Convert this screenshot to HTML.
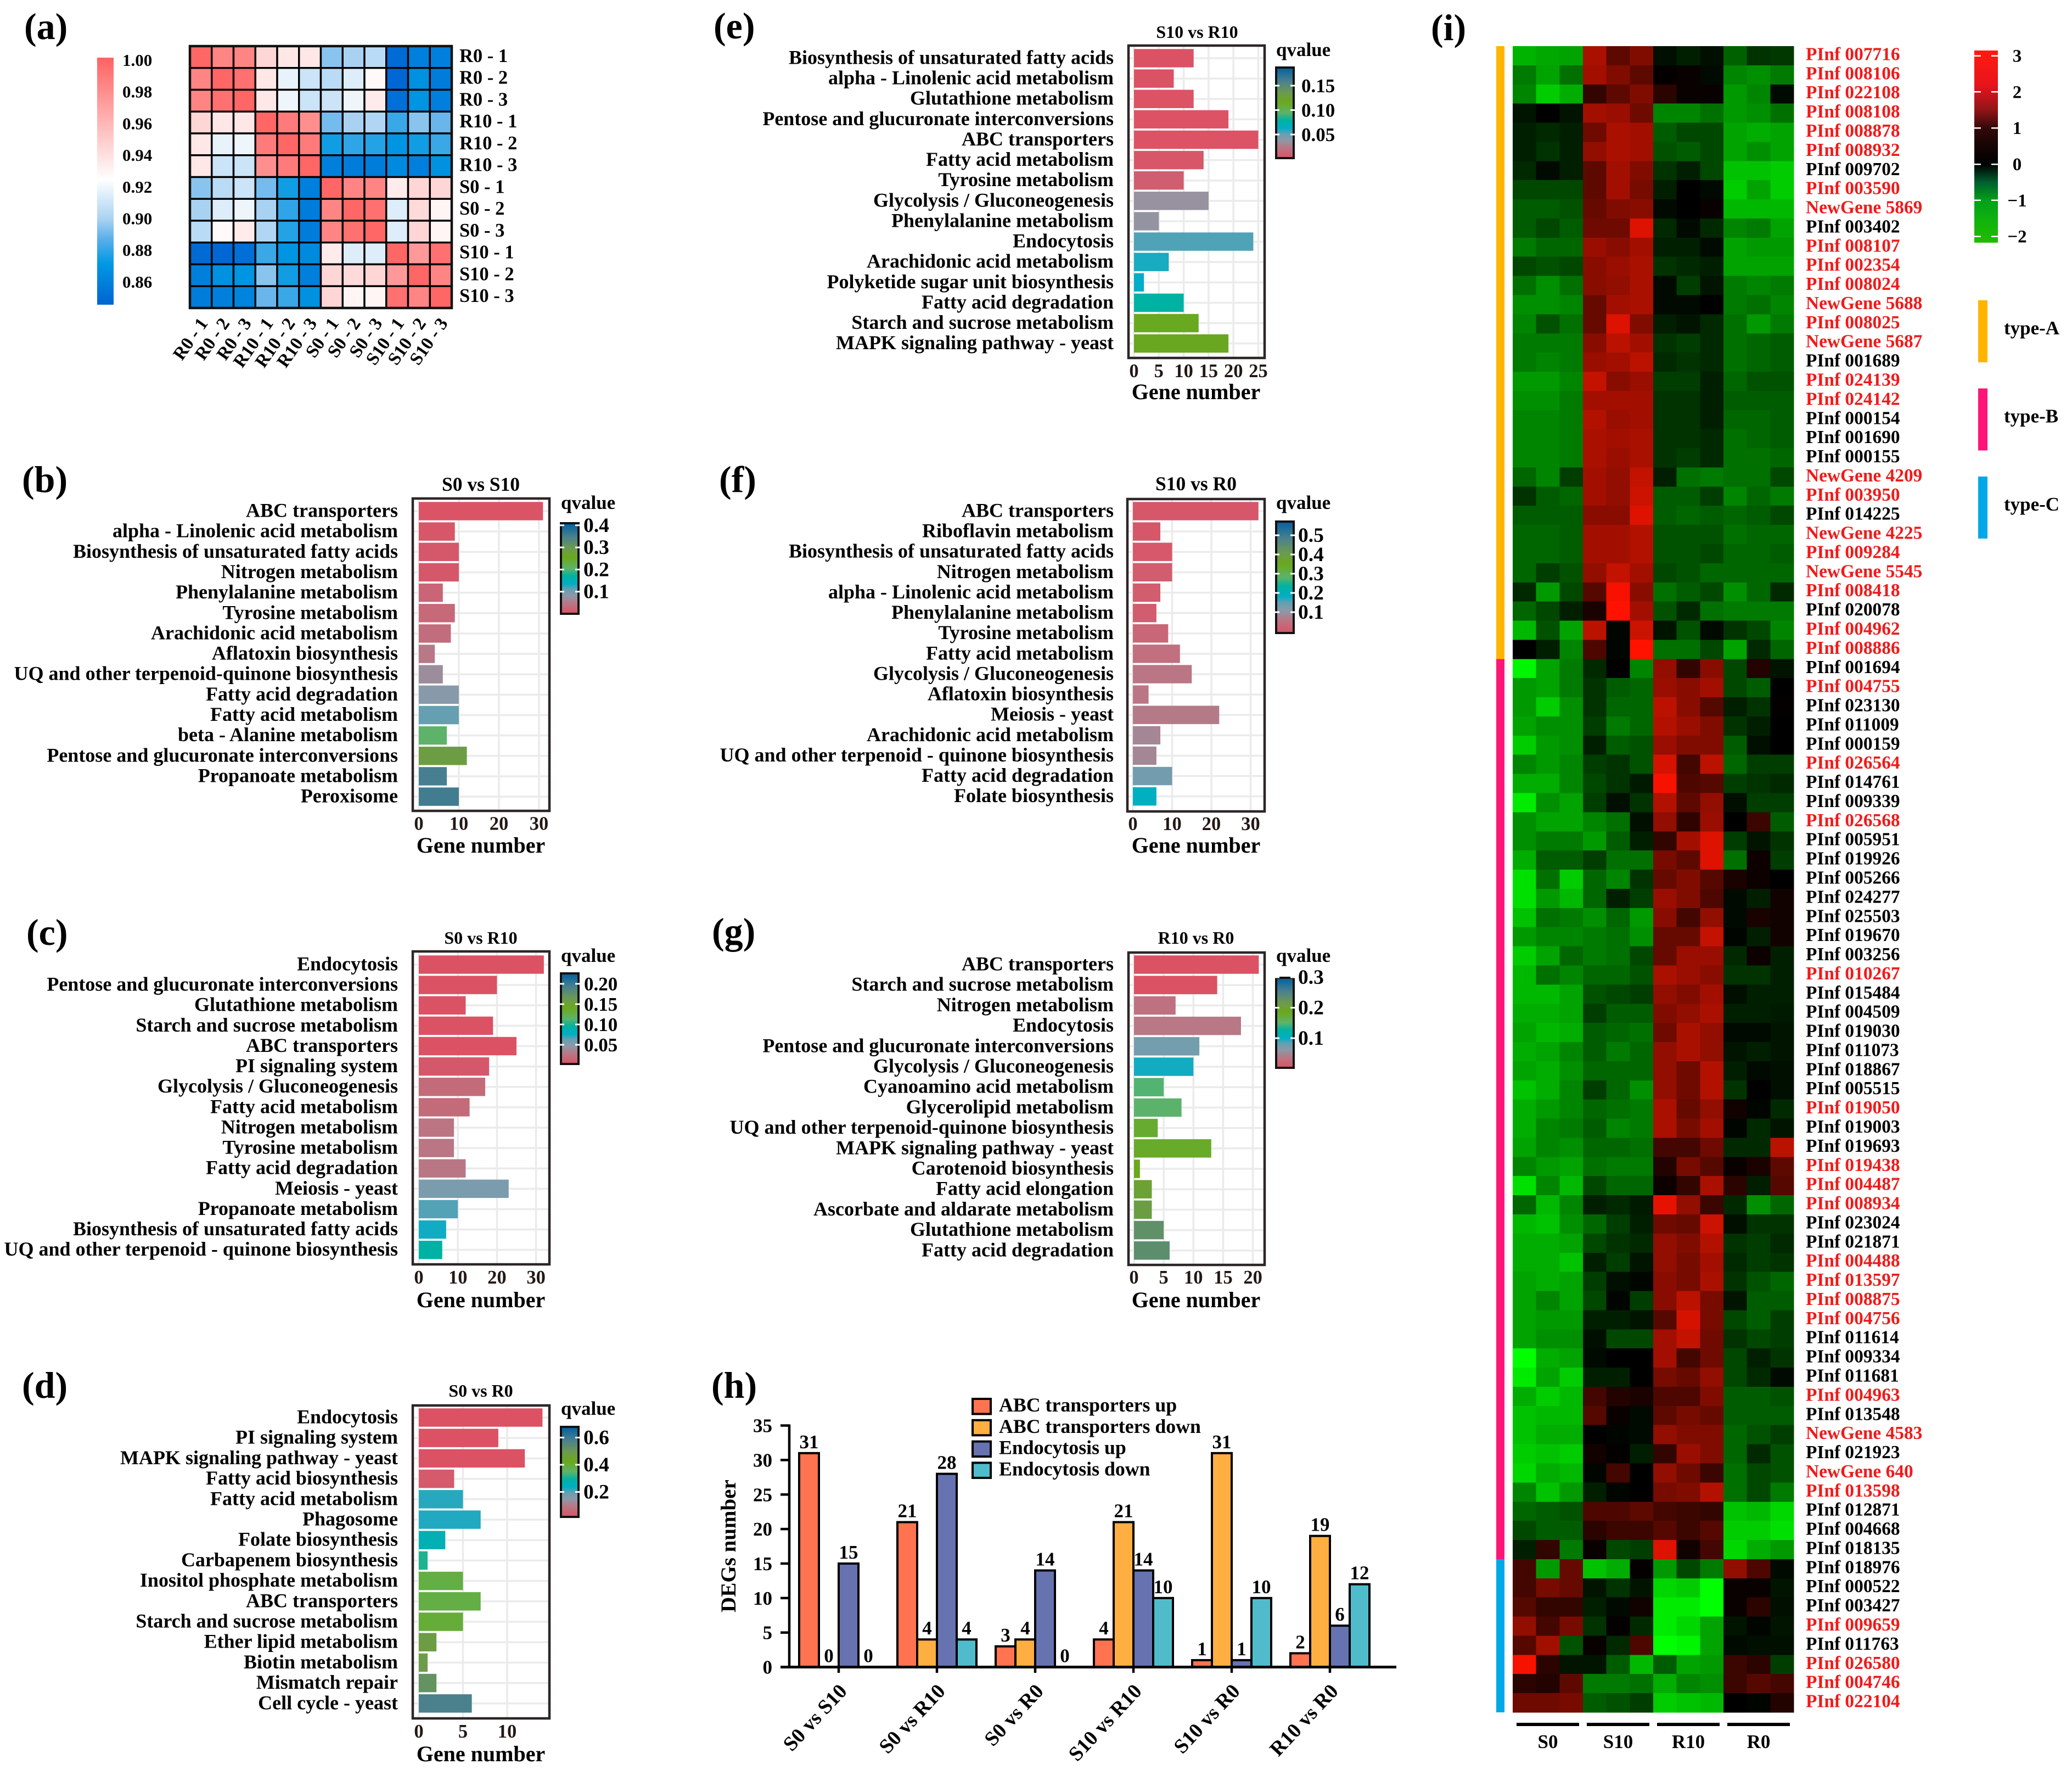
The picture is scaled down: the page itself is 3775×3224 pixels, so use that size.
<!DOCTYPE html>
<html lang="en">
<head>
<meta charset="utf-8">
<title>Multi-panel transcriptome figure</title>
<style>
html,body{margin:0;padding:0;background:#fff;}
svg{display:block;}
text{font-family:"Liberation Serif",serif;font-weight:bold;fill:#000;}
</style>
</head>
<body>
<svg id="fig" xmlns="http://www.w3.org/2000/svg" width="3775" height="3224" viewBox="0 0 3775 3224">
<defs id="defs"></defs>
<rect x="0" y="0" width="3775" height="3224" fill="#fff"></rect>
<text x="44" y="71" font-size="68">(a)</text>
<text x="40" y="896" font-size="68">(b)</text>
<text x="48" y="1721" font-size="68">(c)</text>
<text x="40" y="2546" font-size="68">(d)</text>
<text x="1300" y="70" font-size="68">(e)</text>
<text x="1310" y="896" font-size="68">(f)</text>
<text x="1297" y="1719" font-size="68">(g)</text>
<text x="1296" y="2546" font-size="68">(h)</text>
<text x="2607" y="73" font-size="68">(i)</text>
</svg>
<script>
/* ---------- panel (a) data ---------- */
const corrSamples = ["R0 - 1","R0 - 2","R0 - 3","R10 - 1","R10 - 2","R10 - 3","S0 - 1","S0 - 2","S0 - 3","S10 - 1","S10 - 2","S10 - 3"];
const corrLegendTicks = [1.00,0.98,0.96,0.94,0.92,0.90,0.88,0.86];
const corrMatrix = [
[1.00,.985,.985,.945,.937,.937,.895,.90,.905,.85,.86,.86],
[.985,1,.995,.937,.918,.91,.905,.915,.928,.848,.868,.858],
[.985,.995,1,.937,.92,.91,.91,.92,.935,.852,.87,.86],
[.945,.937,.937,1,.99,.98,.892,.90,.902,.882,.895,.89],
[.937,.918,.92,.99,1,.99,.875,.88,.878,.87,.875,.882],
[.937,.91,.91,.98,.99,1,.86,.858,.858,.865,.86,.868],
[.895,.905,.91,.892,.875,.86,1,.985,.985,.935,.945,.945],
[.90,.915,.92,.90,.88,.858,.985,1,.995,.915,.943,.93],
[.905,.928,.935,.902,.878,.858,.985,.995,1,.915,.945,.93],
[.85,.848,.852,.882,.87,.865,.935,.915,.915,1,.975,.995],
[.86,.868,.87,.895,.875,.86,.945,.943,.945,.975,1,.985],
[.858,.86,.862,.89,.882,.868,.945,.93,.93,.995,.985,1]
];
const corrColorValues = [0.846,0.872,0.888,0.90,0.925,1.002];
const corrColorHex = ["#0063d3","#0099e3","#5db0ea","#a9d2f2","#ffffff","#ff6262"];

/* ---------- enrichment panels data ---------- */
const pathwaysB = ["ABC transporters","alpha - Linolenic acid metabolism","Biosynthesis of unsaturated fatty acids","Nitrogen metabolism","Phenylalanine metabolism","Tyrosine metabolism","Arachidonic acid metabolism","Aflatoxin biosynthesis","UQ and other terpenoid-quinone biosynthesis","Fatty acid degradation","Fatty acid metabolism","beta - Alanine metabolism","Pentose and glucuronate interconversions","Propanoate metabolism","Peroxisome"];
const genesB = [31,9,10,10,6,9,8,4,6,10,10,7,12,7,10];
const qvalB = [.002,.005,.008,.008,.025,.03,.035,.05,.07,.085,.11,.205,.285,.35,.355];
const xTicksB = [0,10,20,30];
const qTicksB = ["0.1","0.2","0.3","0.4"];

const pathwaysC = ["Endocytosis","Pentose and glucuronate interconversions","Glutathione metabolism","Starch and sucrose metabolism","ABC transporters","PI signaling system","Glycolysis / Gluconeogenesis","Fatty acid metabolism","Nitrogen metabolism","Tyrosine metabolism","Fatty acid degradation","Meiosis - yeast","Propanoate metabolism","Biosynthesis of unsaturated fatty acids","UQ and other terpenoid - quinone biosynthesis"];
const genesC = [32,20,12,19,25,18,17,13,9,9,12,23,10,7,6];
const qvalC = [.001,.001,.001,.002,.003,.007,.02,.02,.027,.028,.029,.054,.065,.074,.094];
const xTicksC = [0,10,20,30];
const qTicksC = ["0.05","0.10","0.15","0.20"];

const pathwaysD = ["Endocytosis","PI signaling system","MAPK signaling pathway - yeast","Fatty acid biosynthesis","Fatty acid metabolism","Phagosome","Folate biosynthesis","Carbapenem biosynthesis","Inositol phosphate metabolism","ABC transporters","Starch and sucrose metabolism","Ether lipid metabolism","Biotin metabolism","Mismatch repair","Cell cycle - yeast"];
const genesD = [14,9,12,4,5,7,3,1,5,7,5,2,1,2,6];
const qvalD = [.001,.002,.006,.033,.219,.222,.265,.312,.385,.385,.398,.477,.484,.517,.577];
const xTicksD = [0,5,10];
const qTicksD = ["0.2","0.4","0.6"];

const pathwaysE = ["Biosynthesis of unsaturated fatty acids","alpha - Linolenic acid metabolism","Glutathione metabolism","Pentose and glucuronate interconversions","ABC transporters","Fatty acid metabolism","Tyrosine metabolism","Glycolysis / Gluconeogenesis","Phenylalanine metabolism","Endocytosis","Arachidonic acid metabolism","Polyketide sugar unit biosynthesis","Fatty acid degradation","Starch and sucrose metabolism","MAPK signaling pathway - yeast"];
const genesE = [12,8,12,19,25,14,10,15,5,24,7,2,10,13,19];
const qvalE = [.001,.001,.002,.002,.002,.004,.009,.035,.036,.054,.06,.063,.078,.115,.118];
const xTicksE = [0,5,10,15,20,25];
const qTicksE = ["0.05","0.10","0.15"];

const pathwaysF = ["ABC transporters","Riboflavin metabolism","Biosynthesis of unsaturated fatty acids","Nitrogen metabolism","alpha - Linolenic acid metabolism","Phenylalanine metabolism","Tyrosine metabolism","Fatty acid metabolism","Glycolysis / Gluconeogenesis","Aflatoxin biosynthesis","Meiosis - yeast","Arachidonic acid metabolism","UQ and other terpenoid - quinone biosynthesis","Fatty acid degradation","Folate biosynthesis"];
const genesF = [32,7,10,10,7,6,9,12,15,4,22,7,6,10,6];
const qvalF = [.001,.001,.002,.012,.012,.012,.029,.046,.058,.058,.064,.081,.081,.133,.191];
const xTicksF = [0,10,20,30];
const qTicksF = ["0.1","0.2","0.3","0.4","0.5"];

const pathwaysG = ["ABC transporters","Starch and sucrose metabolism","Nitrogen metabolism","Endocytosis","Pentose and glucuronate interconversions","Glycolysis / Gluconeogenesis","Cyanoamino acid metabolism","Glycerolipid metabolism","UQ and other terpenoid-quinone biosynthesis","MAPK signaling pathway - yeast","Carotenoid biosynthesis","Fatty acid elongation","Ascorbate and aldarate metabolism","Glutathione metabolism","Fatty acid degradation"];
const genesG = [21,14,7,18,11,10,5,8,4,13,1,3,3,5,6];
const qvalG = [.001,.003,.032,.038,.074,.097,.148,.15,.177,.18,.186,.2,.209,.23,.233];
const xTicksG = [0,5,10,15,20];
const qTicksG = ["0.1","0.2","0.3"];

const qColorPositions = [0,.12,.2,.27,.33,.42,.5,.62,.72,.85,1];
const qColorHex = ["#db5265","#b87886","#8c99a9","#64a0b2","#00aec6","#00b2a0","#5db36a","#6aa81c","#6c9a50","#4a808f","#00609f"];

/* ---------- panel (h) data ---------- */
const degGroups = ["S0 vs S10","S0 vs R10","S0 vs R0","S10 vs R10","S10 vs R0","R10 vs R0"];
const abcUp = [31,21,3,4,1,2];
const abcDown = [0,4,4,21,31,19];
const endoUp = [15,28,14,14,1,6];
const endoDown = [0,4,0,10,10,12];
const degSeriesNames = ["ABC transporters up","ABC transporters down","Endocytosis up","Endocytosis down"];
const degSeriesColors = ["#ff7350","#ffae42","#6673b0","#50bccb"];
const degYTicks = [0,5,10,15,20,25,30,35];

/* ---------- panel (i) data ---------- */
const heatGenes = ["PInf 007716","PInf 008106","PInf 022108","PInf 008108","PInf 008878","PInf 008932","PInf 009702","PInf 003590","NewGene 5869","PInf 003402","PInf 008107","PInf 002354","PInf 008024","NewGene 5688","PInf 008025","NewGene 5687","PInf 001689","PInf 024139","PInf 024142","PInf 000154","PInf 001690","PInf 000155","NewGene 4209","PInf 003950","PInf 014225","NewGene 4225","PInf 009284","NewGene 5545","PInf 008418","PInf 020078","PInf 004962","PInf 008886","PInf 001694","PInf 004755","PInf 023130","PInf 011009","PInf 000159","PInf 026564","PInf 014761","PInf 009339","PInf 026568","PInf 005951","PInf 019926","PInf 005266","PInf 024277","PInf 025503","PInf 019670","PInf 003256","PInf 010267","PInf 015484","PInf 004509","PInf 019030","PInf 011073","PInf 018867","PInf 005515","PInf 019050","PInf 019003","PInf 019693","PInf 019438","PInf 004487","PInf 008934","PInf 023024","PInf 021871","PInf 004488","PInf 013597","PInf 008875","PInf 004756","PInf 011614","PInf 009334","PInf 011681","PInf 004963","PInf 013548","NewGene 4583","PInf 021923","NewGene 640","PInf 013598","PInf 012871","PInf 004668","PInf 018135","PInf 018976","PInf 000522","PInf 003427","PInf 009659","PInf 011763","PInf 026580","PInf 004746","PInf 022104"];
const heatGeneHighlighted = [1,1,1,1,1,1,0,1,1,0,1,1,1,1,1,1,0,1,1,0,0,0,1,1,0,1,1,1,1,0,1,1,0,1,0,0,0,1,0,0,1,0,0,0,0,0,0,0,1,0,0,0,0,0,0,1,0,0,1,1,1,0,0,1,1,1,1,0,0,0,1,0,1,0,1,1,0,0,0,0,0,0,1,0,1,1,1];
const heatGroupNames = ["S0","S10","R10","R0"];
const heatTypeNames = ["type-A","type-B","type-C"];
const heatTypeCounts = [32,47,8];
const heatTypeColors = ["#ffb400","#ff1478","#00a8e8"];
const heatLegendTicks = [3,2,1,0,-1,-2];
const heatRows = [
[-1.75,-1.65,-1.6,2,1.1,1.5,-.15,-.3,-.15,-.95,-.5,-.55],
[-1.2,-1.6,-1.1,1.9,1.5,1.1,.05,.1,-.1,-1.3,-1.4,-1.2],
[-1.3,-2,-1.7,.6,1.1,1.5,.5,.1,.1,-1.5,-1.3,-.1],
[-.2,0,-.2,1.9,1.8,1.3,-1.3,-1.3,-1.1,-1.5,-1.4,-1.1],
[-.3,-.4,-.3,1.3,2,1.9,-.9,-.7,-.7,-1.6,-1.7,-1.6],
[-.3,-.5,-.3,1.7,2,1.9,-.8,-.9,-.7,-1.6,-1.4,-1.6],
[-.4,-.1,-.3,1.1,1.9,1.5,-.5,-.3,-.7,-1.9,-1.9,-2],
[-.7,-.7,-.7,1.1,1.9,1.4,-.3,0,-.1,-2,-1.6,-2],
[-.9,-.9,-.8,1.2,1.5,1.6,-.1,0,.1,-1.8,-1.8,-1.8],
[-.9,-.7,-.9,1.3,1.3,2.6,-.4,-.1,-.4,-1.3,-1.2,-1.6],
[-1.2,-1,-1,1.8,1.6,1.9,-.3,-.3,-.1,-1.6,-1.5,-1.5],
[-.7,-.8,-.7,1.6,1.8,2,-.5,-.4,-.3,-1.6,-1.6,-1.6],
[-1.1,-1.4,-1.1,1.6,1.7,2,-.1,-.6,-.2,-1.2,-1.3,-1.2],
[-1.4,-1.4,-1.3,1.2,1.9,2,-.1,-.1,0,-1.2,-1.1,-1.3],
[-1.3,-.8,-1.1,1.2,2.6,1.5,-.3,-.2,-.4,-1.1,-1.5,-1.2],
[-1.2,-1.2,-1.2,1.6,2.2,1.9,-.5,-.6,-.4,-1.1,-1,-.9],
[-1.2,-1.3,-1.2,1.8,1.9,2.2,-.4,-.5,-.4,-1.1,-1,-.9],
[-1.5,-1.5,-1.3,2.3,1.6,1.8,-.6,-.6,-.3,-1,-.8,-.8],
[-1.4,-1.4,-1.2,1.9,1.9,1.9,-.5,-.5,-.3,-.9,-.9,-.9],
[-1.3,-1.3,-1.2,2.1,1.8,1.9,-.5,-.5,-.3,-1,-1,-.9],
[-1.3,-1.3,-1.2,2,1.9,2,-.5,-.5,-.4,-1.1,-1,-.9],
[-1.3,-1.3,-1.2,2,1.8,2,-.5,-.6,-.4,-1.1,-1.1,-1],
[-1,-1.3,-.6,1.9,1.7,2.3,-.3,-1.1,-1.2,-1.1,-1.1,-.7],
[-.5,-.9,-1,1.9,1.7,2.4,-.9,-.9,-.6,-1.3,-1,-1.2],
[-.9,-.9,-.9,1.6,1.6,2.6,-.9,-1,-.9,-1,-.9,-.7],
[-1,-1,-.9,1.9,1.9,2.1,-.8,-.8,-.8,-1.1,-1,-1],
[-1,-1,-.9,1.9,1.9,2.1,-.8,-.8,-.7,-1,-1,-.9],
[-1,-.6,-.8,1.7,2.3,1.9,-.7,-.8,-1,-1,-1,-1],
[-.4,-1.5,-.7,1,2.9,1.6,-1.1,-.9,-.7,-1.4,-1,-.4],
[-1,-.7,-.3,.3,3,1.9,-.8,-.4,-1.1,-1.2,-1.2,-1.2],
[-1.8,-.8,-1.6,2.2,-.05,2.4,-.2,-.8,-.1,-.5,-.7,-1.3],
[0,-.3,-1.3,.9,-.05,3,-1.1,-1.1,-.7,-1.6,-.4,-1],
[-2.4,-1.6,-1.2,-.4,0,-1.3,1.7,.6,1.6,-.7,.4,-.2],
[-1.5,-1.6,-1.2,-.5,-.9,-1,1.8,1.6,1.9,-.7,-.9,0],
[-1.5,-2,-1.4,-.5,-1,-1,2.2,1.6,1,-.3,-.5,.05],
[-1.6,-1.4,-1.4,-.6,-1.2,-1,2.1,1.8,1.5,-.5,-.3,0],
[-2,-1.5,-1.4,-.3,-.9,-.8,1.8,1.5,1.5,-.9,-.15,0],
[-1.3,-1.5,-1.3,-.6,-.5,-.8,2.5,.8,2.2,-1,-.6,-.6],
[-1.7,-1.7,-1.3,-.7,-.5,-.25,2.9,.9,1,-.6,-.5,-.4],
[-2.3,-1.4,-1.6,-.6,-.15,-.5,2.1,1.1,1.7,-.15,-.6,-.6],
[-1.4,-1.6,-1.6,-1.3,-1.1,-.15,1.7,.55,1.8,0,.7,-.9],
[-1.4,-1.2,-1.2,-1.5,-.9,-.3,.6,1.9,2.6,-.6,-.2,-.5],
[-1.7,-.9,-.9,-.6,-1.1,-1.1,1.4,1.1,2.6,-1.1,.15,-.6],
[-2.2,-1.1,-2,-1,-1.3,-.5,1.2,1.5,1,.3,.15,0],
[-2.2,-1.5,-1.8,-1,-.3,-.6,1.8,1.5,.9,-.1,-.3,.2],
[-1.9,-1.1,-1.2,-1.4,-1,-1.5,1.6,.8,1.7,-.1,.3,.2],
[-1.5,-1.3,-1.3,-1.2,-1.1,-1.4,1.2,1.2,2.3,-.05,-.3,.2],
[-2,-1.6,-1,-1.2,-1.1,-.7,1.2,1.8,1.8,-.4,.15,-.3],
[-1.8,-1.1,-1.3,-1,-1,-.8,2,1.8,1.6,-.5,-.5,-.3],
[-1.8,-1.8,-1.6,-.8,-.7,-.6,1.7,1.5,1.9,-.15,-.3,-.3],
[-1.7,-1.7,-1.6,-.6,-.9,-.9,1.5,1.7,2,-.3,-.3,-.25],
[-1.6,-1.8,-1.7,-.9,-1,-1.1,1.3,2,1.7,-.1,-.1,-.2],
[-1.7,-1.6,-1.3,-.9,-1.2,-1,1.7,2,1.7,-.2,-.3,-.2],
[-1.6,-1.7,-1.4,-1,-1,-1,1.7,1.3,2.1,-.3,-.1,-.15],
[-1.9,-1.7,-1.3,-.6,-1,-1.4,1.7,1.3,2.1,-.5,0,-.15],
[-1.7,-1.5,-1.3,-1,-1.1,-1.2,2,1.2,1.7,.2,-.05,-.4],
[-1.7,-1.3,-1.2,-.9,-1.3,-1.2,2,1.4,1.9,-.05,-.4,-.2],
[-1.6,-1.3,-1.4,-1,-1,-1.1,.8,.8,1.3,-.4,-.4,2.2],
[-1.3,-1.5,-1.6,-1.1,-1.2,-1.2,.4,1.4,1,.1,.3,1.1],
[-2.2,-1.3,-1.8,-.7,-1,-1,.15,.6,2,.5,-.3,1],
[-1,-1.8,-1.3,-.3,-.4,-.25,2.7,1.7,.7,-.4,-1.4,-1],
[-1.8,-1.9,-1.4,-1,-.6,-.3,1.3,1.2,2.4,-.15,-.5,-.5],
[-1.7,-1.7,-1.6,-.7,-.5,-.4,1.7,1.5,2.1,-.5,-.6,-.4],
[-1.7,-1.7,-1.9,-.3,-.6,-.2,1.7,1.4,1.9,-.4,-.6,-.5],
[-1.6,-1.7,-1.6,-.6,-.15,-.05,1.6,1.4,2,-.5,-.8,-1],
[-1.6,-1.3,-1.6,-.7,-.05,-.6,1.6,2.2,1.4,-.2,-.9,-.9],
[-1.6,-1.5,-1.5,-.3,-.3,-.2,1,2.5,1.4,-.7,-.9,-.6],
[-1.6,-1.4,-1.4,-.15,-.7,-.7,1.9,2.3,1.3,-.5,-.7,-.6],
[-2.5,-1.7,-1.6,-.1,0,0,1.9,.8,1.3,-.7,-.3,-.5],
[-2.3,-1.6,-2,-.3,-.3,0,1.4,1.2,1.7,-.7,-.4,-.1],
[-1.7,-2,-1.8,.8,.4,.3,.9,.9,1.5,-.9,-.9,-.8],
[-1.9,-1.8,-1.8,1,.1,-.1,1.1,1.4,1.2,-.9,-.9,-.9],
[-1.9,-1.7,-1.7,0,-.05,-.1,1.7,1.5,1.5,-1,-.8,-.6],
[-2,-1.9,-2,.2,.05,-.3,.6,1.8,1.5,-1,-.4,-.8],
[-2.1,-1.7,-1.8,-.05,.8,0,1.7,1.3,.7,-1.1,-.7,-.8],
[-1.3,-1.9,-1.5,-.3,-.05,0,1.4,1.5,2.1,-1.1,-.7,-1.2],
[-1,-.9,-.8,.9,.9,1.1,.8,.7,.6,-1.9,-1.8,-2.1],
[-.7,-.9,-.9,.5,.7,.7,1,.7,1,-2,-2,-2.2],
[-.3,.6,-1.2,.1,-.7,-.6,2.6,.2,.8,-2.1,-1.7,-1.5],
[.8,-1.5,1.2,-1.9,-1.7,.05,-1.5,-.7,-1.2,1.7,.9,-.1],
[.8,1.4,1.2,-.2,-.5,-.2,-2.1,-2,-2.5,.1,.1,-.2],
[1,.6,.6,-.3,-.1,.2,-2.3,-2.3,-2.5,.1,.5,-.15],
[1.7,.8,1.4,-.5,.05,-.4,-2.3,-2.1,-1.6,-.2,-.05,-.2],
[1,1.9,-.8,.1,-.4,.9,-2.5,-2.4,-1.6,-.1,-.15,-.15],
[2.9,.5,-.2,-.2,-.9,-1.8,-.9,-1.6,-1.5,.7,.5,-.6],
[.5,.4,1.1,-1.2,-1.2,-1.1,-1.7,-1.3,-1.4,.7,1,.8],
[1.3,1.3,1.4,-.9,-.8,-.6,-2,-1.9,-1.8,0,-.05,.4]
];

/* ---------- helpers ---------- */
const SVG_NS = "http://www.w3.org/2000/svg";
const fig = document.getElementById("fig");
const defs = document.getElementById("defs");
function add(parent, tag, attrs, content) {
  const el = document.createElementNS(SVG_NS, tag);
  for (const key in attrs) el.setAttribute(key, attrs[key]);
  if (content !== undefined) el.textContent = content;
  parent.appendChild(el);
  return el;
}
function hexToRgb(h) {
  return [parseInt(h.slice(1,3),16), parseInt(h.slice(3,5),16), parseInt(h.slice(5,7),16)];
}
function interpolate(stops, hexes, v) {
  if (v <= stops[0]) return hexes[0];
  for (let i = 1; i < stops.length; i++) {
    if (v <= stops[i]) {
      const f = (v - stops[i-1]) / (stops[i] - stops[i-1]);
      const a = hexToRgb(hexes[i-1]);
      const b = hexToRgb(hexes[i]);
      return "rgb(" + a.map((c, k) => Math.round(c + (b[k] - c) * f)).join(",") + ")";
    }
  }
  return hexes[hexes.length - 1];
}
function makeGradient(id, offsets, colors) {
  const g = add(defs, "linearGradient", {id: id, x1: 0, y1: 1, x2: 0, y2: 0});
  offsets.forEach((o, i) => add(g, "stop", {offset: o, "stop-color": colors[i]}));
}
makeGradient("corr-gradient", corrColorValues.map(v => (v - 0.846) / (1.002 - 0.846)), corrColorHex);
makeGradient("q-gradient", qColorPositions, qColorHex);

/* ---------- panel (a) ---------- */
(function () {
  const panel = add(fig, "g", {});
  
  
  const left = 346, top = 84, cell = 39.75;
  const xs = c => left + c * cell;
  const ys = r => top + r * cell;
  const corrColor = v => interpolate(corrColorValues, corrColorHex, v);
  corrMatrix.forEach((row, r) => row.forEach((v, c) => {
    const rect = add(panel, "rect", {x: xs(c), y: ys(r), width: cell, height: cell, fill: corrColor(v), stroke: "#000", "stroke-width": 3.4});
    
    
  }));
  const frame = add(panel, "rect", {x: left, y: top, width: cell * 12, height: cell * 12, fill: "none", stroke: "#111", "stroke-width": 4.5});
  
  
  corrSamples.forEach((s, i) => {
    const rowLabel = add(panel, "text", {x: 837, y: ys(i) + cell / 2 + 9, "font-size": 34.5}, s);
    
    
    const px = xs(i) + cell / 2 + 14, py = 589;
    const colLabel = add(panel, "text", {x: px, y: py, "font-size": 33, "text-anchor": "end", transform: "rotate(-55 " + px + " " + py + ")"}, s);
    
    
  });
  const bar = add(panel, "rect", {x: 177, y: 105, width: 30, height: 450, fill: "url(#corr-gradient)"});
  
  
  const legendY = v => 109 + (1 - v) / 0.02 * 57.7;
  corrLegendTicks.forEach(t => {
    const label = add(panel, "text", {x: 223, y: legendY(t) + 11, "font-size": 31}, t.toFixed(2));
    
    
  });
})();

/* ---------- enrichment bar panels ---------- */
function drawEnrichment(key, cfg, categories, genes, qvals, xTicks, qTicks) {
  const panel = add(fig, "g", {});
  
  
  const xs = v => cfg.x0 + v * cfg.unit;
  const ys = i => cfg.row0 + i * cfg.pitch;
  const qy = q => cfg.cb0 - q * cfg.k;
  const qColor = q => interpolate(qColorPositions, qColorHex, (cfg.cbBot - 2 - qy(q)) / (cfg.cbBot - cfg.cbTop - 4));
  const B = cfg.border;
  categories.forEach((name, i) => {
    const grid = add(panel, "line", {x1: B[0], x2: B[2], y1: ys(i), y2: ys(i), stroke: "#ebebeb", "stroke-width": 3.5});
    
    
  });
  xTicks.forEach(t => {
    const grid = add(panel, "line", {x1: xs(t), x2: xs(t), y1: B[1], y2: B[3], stroke: "#ebebeb", "stroke-width": 3.5});
    
    
    const tick = add(panel, "text", {x: xs(t), y: cfg.tickY + 12, "font-size": 34.5, "text-anchor": "middle", style: "fill:#231815"}, t);
    
    
  });
  categories.forEach((name, i) => {
    const h = cfg.pitch * 0.9;
    const bar = add(panel, "rect", {x: xs(0), y: ys(i) - h / 2, width: xs(genes[i]) - xs(0), height: h, fill: qColor(qvals[i])});
    
    
    const label = add(panel, "text", {x: cfg.labelRight, y: ys(i) + 10.5, "font-size": 36, "text-anchor": "end"}, name);
    
    
  });
  const frame = add(panel, "rect", {x: B[0], y: B[1], width: B[2] - B[0], height: B[3] - B[1], fill: "none", stroke: "#2d2626", "stroke-width": 4.5});
  
  
  const title = add(panel, "text", {x: cfg.titleX, y: cfg.titleY + 11, "font-size": cfg.titleSize, "text-anchor": "middle"}, cfg.title);
  
  
  const axisTitle = add(panel, "text", {x: cfg.axisX, y: cfg.axisY + 14, "font-size": 40, "text-anchor": "middle"}, "Gene number");
  
  
  const legendTitle = add(panel, "text", {x: cfg.cbX + 2, y: cfg.qY + 10, "font-size": 35}, "qvalue");
  
  
  const bar = add(panel, "rect", {x: cfg.cbX + 2, y: cfg.cbTop + 2, width: 32, height: cfg.cbBot - cfg.cbTop - 4, fill: "url(#q-gradient)", stroke: "#111", "stroke-width": 4});
  
  
  qTicks.forEach(t => {
    const y = qy(parseFloat(t));
    [[cfg.cbX, cfg.cbX + 8], [cfg.cbX + 28, cfg.cbX + 36]].forEach(seg => {
      const mark = add(panel, "line", {x1: seg[0], x2: seg[1], y1: y, y2: y, stroke: "#fff", "stroke-width": 3});
      
      
    });
    const wide = t.length === 3;
    const label = add(panel, "text", {x: cfg.cbLabelX - (wide ? 3 : 0), y: y + 12, "font-size": wide ? 37.5 : 35}, t);
    
    
  });
}
drawEnrichment("b", {border:[752,908,1001,1477], x0:763, unit:7.3, row0:931, pitch:37.15, labelRight:725, title:"S0 vs S10", titleX:876, axisX:876, titleY:883, titleSize:35.5, tickY:1499.5, axisY:1539, qY:917, cbX:1020, cbTop:951, cbBot:1120, cb0:1118, k:403, cbLabelX:1066}, pathwaysB, genesB, qvalB, xTicksB, qTicksB);
drawEnrichment("c", {border:[752,1733,1001,2303], x0:763, unit:7.12, row0:1757, pitch:37.12, labelRight:725, title:"S0 vs R10", titleX:876, axisX:876, titleY:1708, titleSize:32, tickY:2326, axisY:2367, qY:1742, cbX:1020, cbTop:1771, cbBot:1940, cb0:1940, k:740, cbLabelX:1064}, pathwaysC, genesC, qvalC, xTicksC, qTicksC);
drawEnrichment("d", {border:[752,2560,1001,3130], x0:763, unit:16.1, row0:2582, pitch:37.2, labelRight:725, title:"S0 vs R0", titleX:876, axisX:876, titleY:2533, titleSize:32, tickY:3153, axisY:3194, qY:2567, cbX:1020, cbTop:2597, cbBot:2765, cb0:2767, k:247.5, cbLabelX:1066}, pathwaysD, genesD, qvalD, xTicksD, qTicksD);
drawEnrichment("e", {border:[2056,83,2304,652], x0:2066, unit:9.06, row0:106, pitch:37.12, labelRight:2029, title:"S10 vs R10", titleX:2181, axisX:2179, titleY:58, titleSize:32, tickY:675, axisY:713, qY:92, cbX:2323, cbTop:121, cbBot:290, cb0:289.5, k:890, cbLabelX:2371}, pathwaysE, genesE, qvalE, xTicksE, qTicksE);
drawEnrichment("f", {border:[2054,909,2304,1478], x0:2064, unit:7.15, row0:931, pitch:37.12, labelRight:2029, title:"S10 vs R0", titleX:2179, axisX:2179, titleY:882, titleSize:35.5, tickY:1500, axisY:1539, qY:917, cbX:2323, cbTop:948, cbBot:1155, cb0:1150, k:350, cbLabelX:2368}, pathwaysF, genesF, qvalF, xTicksF, qTicksF);
drawEnrichment("g", {border:[2056,1735,2304,2304], x0:2066, unit:10.83, row0:1757, pitch:37.2, labelRight:2029, title:"R10 vs R0", titleX:2179, axisX:2179, titleY:1708, titleSize:32, tickY:2326, axisY:2367, qY:1742, cbX:2323, cbTop:1779, cbBot:1947, cb0:1946.5, k:555, cbLabelX:2368}, pathwaysG, genesG, qvalG, xTicksG, qTicksG);

/* ---------- panel (h) ---------- */
(function () {
  const panel = add(fig, "g", {});
  
  
  const y0 = 3036.5, unitY = 12.57, firstTick = 1528, step = 179, barW = 36;
  const ys = v => y0 - v * unitY;
  const xs = g => firstTick + g * step;
  const series = [abcUp, abcDown, endoUp, endoDown];
  degGroups.forEach((group, g) => {
    series.forEach((vals, s) => {
      const v = vals[g];
      const bx = xs(g) - 2 * barW + s * barW;
      if (v > 0) {
        const bar = add(panel, "rect", {x: bx, y: ys(v), width: barW, height: y0 - ys(v), fill: degSeriesColors[s], stroke: "#000", "stroke-width": 4});
        
        
      }
      const label = add(panel, "text", {x: bx + barW / 2, y: ys(v) - 9, "font-size": 35, "text-anchor": "middle"}, v);
      
      
    });
    const tick = add(panel, "line", {x1: xs(g), x2: xs(g), y1: y0, y2: 3047, stroke: "#000", "stroke-width": 4.5});
    
    
    const px = xs(g) + 17, py = 3082;
    const label = add(panel, "text", {x: px, y: py, "font-size": 37.5, "text-anchor": "end", transform: "rotate(-47 " + px + " " + py + ")"}, group);
    
    
  });
  const xAxis = add(panel, "line", {x1: 1422, x2: 2544, y1: y0, y2: y0, stroke: "#000", "stroke-width": 5});
  
  
  const yAxis = add(panel, "line", {x1: 1438, x2: 1438, y1: ys(35) - 2, y2: y0, stroke: "#000", "stroke-width": 4.5});
  
  
  degYTicks.forEach(t => {
    const tick = add(panel, "line", {x1: 1422, x2: 1438, y1: ys(t), y2: ys(t), stroke: "#000", "stroke-width": 4.5});
    
    
    const label = add(panel, "text", {x: 1407, y: ys(t) + 12, "font-size": 35, "text-anchor": "end"}, t);
    
    
  });
  const yTitle = add(panel, "text", {x: 1340, y: 2816, "font-size": 39, "text-anchor": "middle", transform: "rotate(-90 1340 2816)"}, "DEGs number");
  
  
  degSeriesNames.forEach((name, i) => {
    const sy = 2546 + i * 38.8;
    const swatch = add(panel, "rect", {x: 1772, y: sy + 2, width: 33, height: 27.5, fill: degSeriesColors[i], stroke: "#000", "stroke-width": 4});
    
    
    const label = add(panel, "text", {x: 1820, y: sy + 25, "font-size": 35.8}, name);
    
    
  });
})();

/* ---------- panel (i) ---------- */
(function () {
  const panel = add(fig, "g", {"shape-rendering": "crispEdges"});
  
  
  const left = 2756, right = 3268, top = 84, bottom = 3119;
  const cellW = (right - left) / 12, cellH = (bottom - top) / heatRows.length;
  const xs = c => left + c * cellW;
  const ys = r => top + r * cellH;
  const heatColor = v => v >= 0 ? "rgb(" + Math.min(255, Math.round(v * 85)) + "," + Math.min(18, Math.round(v * 8)) + ",0)" : "rgb(0," + Math.min(255, Math.round(-v * 102)) + ",0)";
  heatRows.forEach((row, r) => {
    row.forEach((v, c) => {
      const cell = add(panel, "rect", {x: xs(c), y: ys(r), width: cellW + 0.6, height: cellH + 0.6, fill: heatColor(v)});
      
      
    });
    const label = add(panel, "text", {x: 3290, y: ys(r) + cellH / 2 + 8, "font-size": 33.4, "shape-rendering": "auto", style: "fill:" + (heatGeneHighlighted[r] ? "#f01a1a" : "#000")}, heatGenes[r]);
    
    
  });
  let start = 0;
  heatTypeCounts.forEach((n, i) => {
    const strip = add(panel, "rect", {x: 2726, y: ys(start), width: 15, height: n * cellH, fill: heatTypeColors[i]});
    
    
    start += n;
    const ly = 547 + i * 160.5;
    const key = add(panel, "rect", {x: 3604, y: ly, width: 17, height: 113, fill: heatTypeColors[i]});
    
    
    const label = add(panel, "text", {x: 3651, y: ly + 62, "font-size": 35, "shape-rendering": "auto"}, heatTypeNames[i]);
    
    
  });
  heatGroupNames.forEach((name, g) => {
    const gx = xs(g * 3);
    const bar = add(panel, "rect", {x: gx + 7, y: 3138, width: 114, height: 6, fill: "#000"});
    
    
    const label = add(panel, "text", {x: gx + cellW * 1.5, y: 3184, "font-size": 35, "text-anchor": "middle", "shape-rendering": "auto"}, name);
    
    
  });
  const legendValues = [-2.17,-1.6,-1,-.5,0,.6,1,1.5,2.2,3.15];
  const legendHex = ["#22bb00","#12b40c","#00a01a","#00602f","#000000","#1a0505","#330808","#901518","#e8141c","#ff1a10"];
  makeGradient("heat-gradient", legendValues.map(v => (v + 2.17) / 5.32), legendHex);
  const bar = add(panel, "rect", {x: 3597, y: 92, width: 43, height: 350, fill: "url(#heat-gradient)"});
  
  
  const legendY = v => 299 - v * 65.8;
  heatLegendTicks.forEach(t => {
    const y = legendY(t);
    [[3597, 3609], [3628, 3640]].forEach(seg => {
      const mark = add(panel, "line", {x1: seg[0], x2: seg[1], y1: y, y2: y, stroke: "#fff", "stroke-width": 2.5});
      
      
    });
    const label = add(panel, "text", {x: 3675, y: y + 11, "font-size": 33, "text-anchor": "middle", "shape-rendering": "auto"}, t < 0 ? "\u2212" + Math.abs(t) : String(t));
    
    
  });
})();
</script>
</body>
</html>
